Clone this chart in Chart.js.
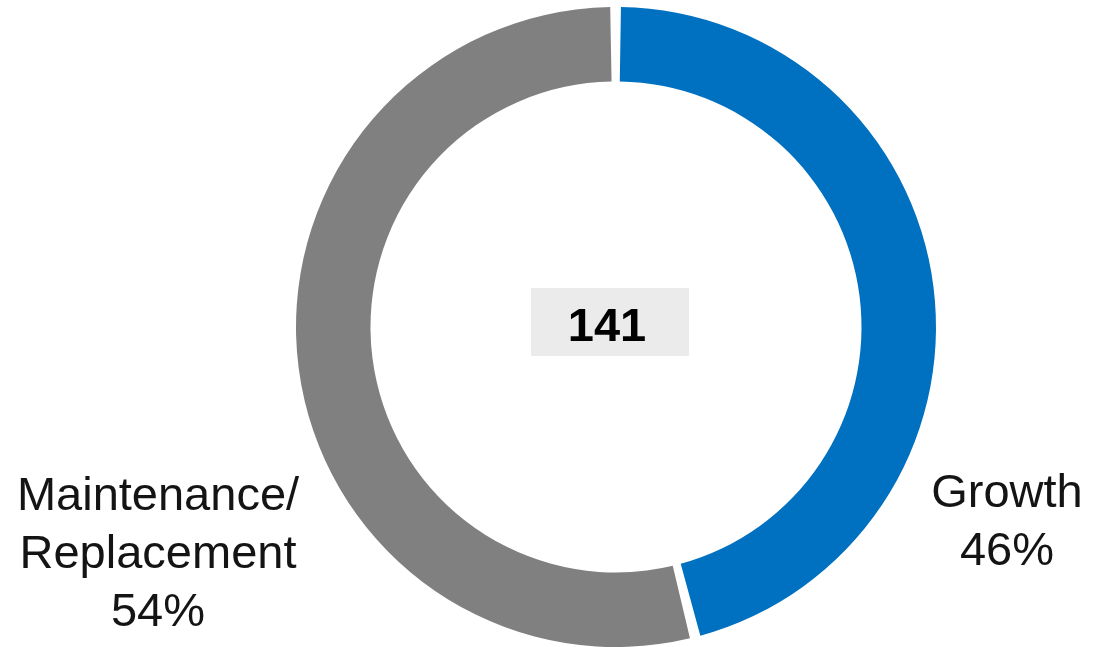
<!DOCTYPE html>
<html>
<head>
<meta charset="utf-8">
<script src="https://cdn.jsdelivr.net/npm/chart.js@4/dist/chart.umd.min.js"></script>
<style>
  html, body { margin: 0; padding: 0; background: #fff; }
  #wrap { width: 1094px; height: 647px; position: relative; }
</style>
</head>
<body>
<div id="wrap"><canvas id="capex"></canvas></div>
<script>
const categorias = ['Growth', 'Maintenance/Replacement'];
const rotulos = [['Growth'], ['Maintenance/', 'Replacement']];
const percentuais = [46, 54];
const total = '141';
const cores = ['#0070c0', '#808080'];

// caixa cinza com o total no centro + rótulos de cada fatia
const textosPlugin = {
  id: 'textos',
  afterDraw(chart) {
    const ctx = chart.ctx;
    const arc = chart.getDatasetMeta(0).data[0];
    const cx = arc.x, cy = arc.y;
    const r = arc.outerRadius;

    ctx.save();
    ctx.fillStyle = '#ebebeb';
    ctx.fillRect(cx - 85, cy - 39, 158, 68);
    ctx.fillStyle = '#000';
    ctx.font = 'bold 47px "Liberation Sans"';
    ctx.textAlign = 'center';
    ctx.textBaseline = 'alphabetic';
    ctx.fillText(total, cx - 9, cy + 14);

    ctx.font = '47px "Liberation Sans"';
    ctx.fillStyle = '#141414';
    const posicoes = [
      { x: cx + r + 74, y: cy + 180 },
      { x: cx - r - 141, y: cy + 183 }
    ];
    percentuais.forEach((p, i) => {
      const linhas = rotulos[i].concat([p + '%']);
      linhas.forEach((txt, j) => {
        ctx.fillText(txt, posicoes[i].x, posicoes[i].y + j * 58);
      });
    });
    ctx.restore();
  }
};

new Chart(document.getElementById('capex'), {
  type: 'doughnut',
  data: {
    labels: categorias,
    datasets: [{
      data: percentuais,
      backgroundColor: cores,
      borderWidth: 0,
      spacing: 6
    }]
  },
  options: {
    responsive: true,
    maintainAspectRatio: false,
    animation: false,
    cutout: '76.5%',
    layout: {
      padding: { top: 7, bottom: 0, left: 296, right: 158 }
    },
    plugins: {
      legend: { display: false },
      tooltip: { enabled: false }
    }
  },
  plugins: [textosPlugin]
});
</script>
</body>
</html>
